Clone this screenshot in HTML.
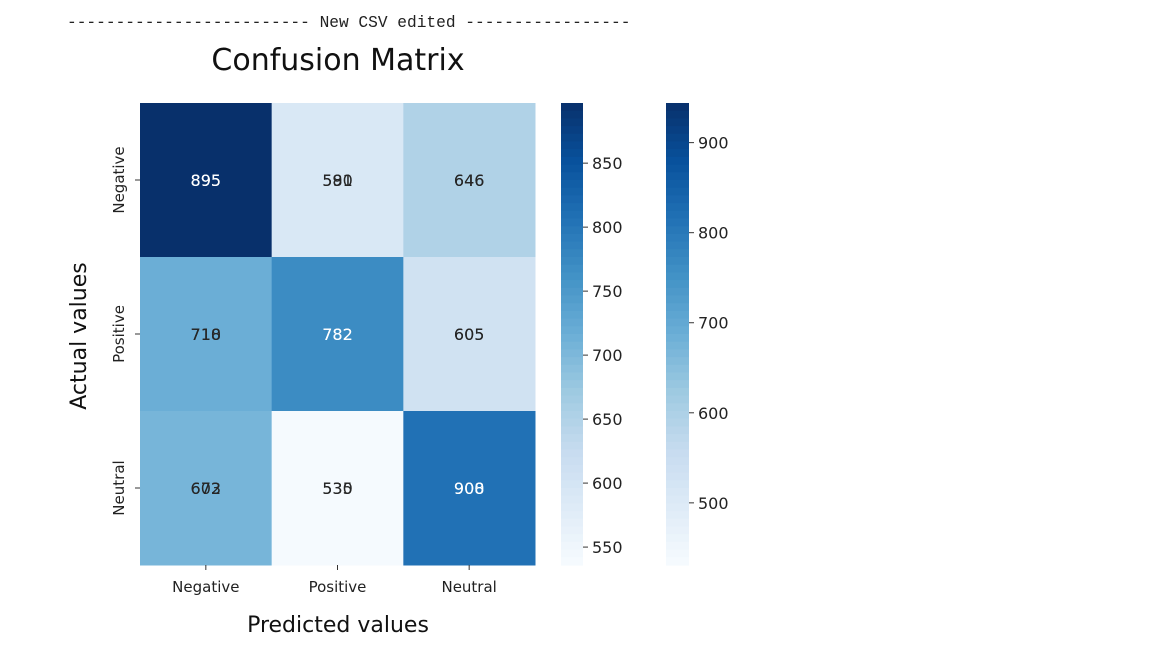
<!DOCTYPE html>
<html><head><meta charset="utf-8"><style>
body{margin:0;background:#fff;width:1152px;height:648px;overflow:hidden}
</style></head><body>
<svg width="1152" height="648" xmlns="http://www.w3.org/2000/svg" font-family="DejaVu Sans, Liberation Sans, sans-serif">
<text x="67" y="27" font-family="Liberation Mono, DejaVu Sans Mono, monospace" font-size="16.2" fill="#222" xml:space="preserve">------------------------- New CSV edited -----------------</text>
<text x="338" y="70" font-size="30" text-anchor="middle" fill="#111">Confusion Matrix</text>
<g id="cells"></g><g id="labels"></g><g id="cbars"></g>
<text x="338" y="632" font-size="22" text-anchor="middle" fill="#111">Predicted values</text>
<text transform="translate(86,336) rotate(-90)" font-size="22" text-anchor="middle" fill="#111">Actual values</text>
</svg>
<script>
const categories=["Negative","Positive","Neutral"];
const valuesA=[[895,580,646],[710,782,605],[672,535,900]];
const valuesB=[[895,591,646],[718,782,605],[603,530,908]];
const colorValues=[[944,508,595],[688,764,533],[672,436,816]];
const cbar1Ticks=[550,600,650,700,750,800,850];
const cbar2Ticks=[500,600,700,800,900];
const vminA=536,vmaxA=897,vminB=431,vmaxB=944;
const NS="http://www.w3.org/2000/svg";
const stops=["#f7fbff","#deebf7","#c6dbef","#9ecae1","#6baed6","#4292c6","#2171b5","#08519c","#08306b"];
function hx(c){return [1,3,5].map(i=>parseInt(c.substr(i,2),16));}
function blues(t){t=Math.max(0,Math.min(1,t));const p=t*8,i=Math.min(7,Math.floor(p)),f=p-i;const a=hx(stops[i]),b=hx(stops[i+1]);return "rgb("+a.map((v,k)=>Math.round(v+(b[k]-v)*f)).join(",")+")";}
function el(tag,attrs,parent){const e=document.createElementNS(NS,tag);for(const k in attrs)e.setAttribute(k,attrs[k]);parent.appendChild(e);return e;}
const X0=140,Y0=103,W=395,H=462,cw=W/3,ch=H/3;
const xPos=i=>X0+cw*i, yPos=j=>Y0+ch*j;
const cells=document.getElementById('cells'),labels=document.getElementById('labels'),cb=document.getElementById('cbars');
for(let r=0;r<3;r++)for(let c=0;c<3;c++){
 const t=(colorValues[r][c]-vminB)/(vmaxB-vminB);
 const rc=el('rect',{x:xPos(c),y:yPos(r),width:cw+0.5,height:ch+0.5,fill:blues(t)},cells);
 
 
 [valuesB,valuesA].forEach(m=>{
  const tx=el('text',{x:xPos(c)+cw/2,y:yPos(r)+ch/2+6,'font-size':16,'text-anchor':'middle',fill:t>0.55?'#fff':'#262626'},labels);
  tx.textContent=m[r][c];
  
  
 });
}
categories.forEach((n,i)=>{
 const t=el('text',{x:xPos(i)+cw/2,y:592,'font-size':15,'text-anchor':'middle',fill:'#222'},labels);t.textContent=n;
 
 
 el('line',{x1:xPos(i)+cw/2,x2:xPos(i)+cw/2,y1:565,y2:570,stroke:'#333'},labels);
 const yc=yPos(i)+ch/2;
 const u=el('text',{transform:`translate(124,${yc}) rotate(-90)`,'font-size':15,'text-anchor':'middle',fill:'#222'},labels);u.textContent=n;
 
 
 el('line',{x1:135,x2:140,y1:yc,y2:yc,stroke:'#333'},labels);
});
function colorbar(x,w,lo,hi,ticks,name){
 const g=el('g',{},cb);
 
 
 const n=60;
 for(let i=0;i<n;i++){el('rect',{x:x,y:Y0+H*i/n,width:w,height:H/n+0.6,fill:blues(1-(i+0.5)/n)},g);}
 ticks.forEach(v=>{const y=Y0+H*(hi-v)/(hi-lo);
  el('line',{x1:x+w,x2:x+w+5,y1:y,y2:y,stroke:'#333'},g);
  const t=el('text',{x:x+w+9,y:y+6,'font-size':16,fill:'#222'},g);t.textContent=v;
  
  });
}
colorbar(561,22,vminA,vmaxA,cbar1Ticks,'colorbar-1');
colorbar(666,23,vminB,vmaxB,cbar2Ticks,'colorbar-2');
</script>
</body></html>
